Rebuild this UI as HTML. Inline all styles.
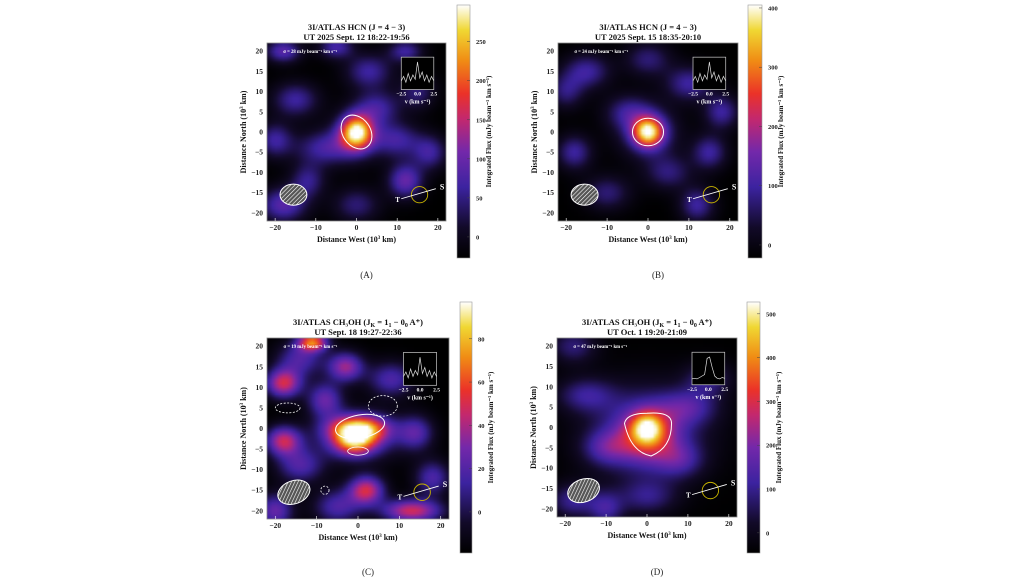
<!DOCTYPE html>
<html><head><meta charset="utf-8">
<style>
html,body{margin:0;padding:0;background:#fff;}
#root{position:relative;width:1024px;height:580px;overflow:hidden;font-family:"Liberation Serif",serif;}
canvas{position:absolute;image-rendering:auto;}
svg{position:absolute;left:0;top:0;}
</style></head>
<body>
<div id="root">
<canvas id="cA"></canvas>
<canvas id="cB"></canvas>
<canvas id="cC"></canvas>
<canvas id="cD"></canvas>
<svg id="ov" width="1024" height="580"></svg>
</div>
<script>
// blob data per panel: x (km), y (km), sigma x, sigma y, amplitude (fraction of colorbar span)
const blobsA_x=[0,-18,-5,12,-15,5,10,-8,12,-18,0,18,-20,3,-12,15,0];
const blobsA_y=[0,20,21,20,8,6,-2,-4,-12,-18,-18,-5,-2,15,-12,10,-1];
const blobsA_sx=[2.7,3,3,3,4,4,4,5,3,4,4,3,3,4,3,3,4.5];
const blobsA_sy=[2.9,2,2,2,3,3,3,3,3,3,3,3,3,3,3,3,4];
const blobsA_a=[0.8,0.35,0.3,0.28,0.28,0.28,0.28,0.28,0.38,0.35,0.22,0.28,0.28,0.28,0.25,0.22,0.25];
const blobsB_x=[0,0,-15,10,-5,15,-18,5,18,-10,12,0,-20];
const blobsB_y=[0,0,15,12,5,-5,-5,-10,5,-15,-18,18,10];
const blobsB_sx=[2.5,5,4,4,4,3,3,4,3,4,3,4,3];
const blobsB_sy=[2.5,4.5,3,3,3,3,3,3,3,3,3,3,3];
const blobsB_a=[0.75,0.3,0.28,0.28,0.22,0.28,0.28,0.22,0.28,0.22,0.28,0.22,0.22];
const blobsC_x=[0,-1,-11,-18,-18,2,13,-3,-8,14,-14,-14,8,-5,18,-20,0];
const blobsC_y=[0,-3.5,21,11,-3,-15,-20,15,7,-1,-9,17,12,-19,-12,-20,-2];
const blobsC_sx=[4.8,3.5,2.5,3,3,3,5,3,3,3,4,4,4,4,3,3,7];
const blobsC_sy=[2.2,2.2,1.5,2.5,2.5,2.5,2,2.5,3,3,3,3,3,3,3,3,4];
const blobsC_a=[0.75,0.5,0.7,0.58,0.55,0.58,0.58,0.48,0.38,0.32,0.32,0.32,0.32,0.32,0.32,0.38,0.35];
const blobsD_x=[0,0,-15,-10,10,15,-18,0,8,-18,-10,0];
const blobsD_y=[0,-1,8,-5,5,12,-18,-17,-8,20,-20,-2];
const blobsD_sx=[2.6,10,5,4,5,4,4,5,4,4,3,5];
const blobsD_sy=[2.6,8,3,3,3,3,3,3,3,3,3,4.5];
const blobsD_a=[0.45,0.3,0.24,0.24,0.24,0.22,0.26,0.22,0.22,0.22,0.26,0.42];
// colorbar ticks
const ticksA=[0,50,100,150,200,250]; const rangeA=[-27,297];
const ticksB=[0,100,200,300,400]; const rangeB=[-22,405];
const ticksC=[0,20,40,60,80]; const rangeC=[-19,97];
const ticksD=[0,100,200,300,400,500]; const rangeD=[-46,527];
const xTicks=[-20,-10,0,10,20];
const yTicks=[-20,-15,-10,-5,0,5,10,15,20];

const stops=[[0,[0,0,0]],[0.12,[18,10,40]],[0.28,[60,35,160]],[0.42,[115,40,170]],[0.55,[195,40,110]],[0.65,[235,50,40]],[0.78,[240,140,20]],[0.9,[240,215,50]],[1,[255,255,255]]];
function cmap(v){v=Math.max(0,Math.min(1,v));for(let i=1;i<stops.length;i++){if(v<=stops[i][0]){const a=stops[i-1],b=stops[i];const t=(v-a[0])/(b[0]-a[0]);return a[1].map((c,k)=>Math.round(c+(b[1][k]-c)*t));}}return [255,255,255];}

const panels=[
 {id:'A',c:'cA',x0:267,x1:446,y0:43,y1:221,cb:[457,5,13,253],bx:blobsA_x,by:blobsA_y,bsx:blobsA_sx,bsy:blobsA_sy,ba:blobsA_a,ticks:ticksA,range:rangeA,
  t1:'3I/ATLAS HCN (J = 4 − 3)',t2:'UT 2025 Sept. 12 18:22-19:56',sig:'σ = 28 mJy beam⁻¹ km s⁻¹',lab:'(A)',labY:278},
 {id:'B',c:'cB',x0:558,x1:738,y0:43,y1:221,cb:[748,5,14,253],bx:blobsB_x,by:blobsB_y,bsx:blobsB_sx,bsy:blobsB_sy,ba:blobsB_a,ticks:ticksB,range:rangeB,
  t1:'3I/ATLAS HCN (J = 4 − 3)',t2:'UT 2025 Sept. 15 18:35-20:10',sig:'σ = 24 mJy beam⁻¹ km s⁻¹',lab:'(B)',labY:278},
 {id:'C',c:'cC',x0:267,x1:449,y0:338,y1:519,cb:[460,302,12,251],bx:blobsC_x,by:blobsC_y,bsx:blobsC_sx,bsy:blobsC_sy,ba:blobsC_a,ticks:ticksC,range:rangeC,
  t1:'3I/ATLAS CH₃OH (J',t2:'UT Sept. 18 19:27-22:36',sig:'σ = 19 mJy beam⁻¹ km s⁻¹',lab:'(C)',labY:575,ch:true},
 {id:'D',c:'cD',x0:557,x1:737,y0:338,y1:517,cb:[747,302,13,251],bx:blobsD_x,by:blobsD_y,bsx:blobsD_sx,bsy:blobsD_sy,ba:blobsD_a,ticks:ticksD,range:rangeD,
  t1:'3I/ATLAS CH₃OH (J',t2:'UT Oct. 1 19:20-21:09',sig:'σ = 47 mJy beam⁻¹ km s⁻¹',lab:'(D)',labY:575,ch:true}
];
const NS='http://www.w3.org/2000/svg';
const ov=document.getElementById('ov');
function mk(tag,attrs,parent,text){const e=document.createElementNS(NS,tag);for(const k in attrs)e.setAttribute(k,attrs[k]);if(text!==undefined)e.textContent=text;(parent||ov).appendChild(e);return e;}
const defs=mk('defs',{});
const pat=mk('pattern',{id:'hatch',width:3,height:3,patternUnits:'userSpaceOnUse',patternTransform:'rotate(45)'},defs);
mk('rect',{width:3,height:3,fill:'#555'},pat);
mk('line',{x1:0,y1:0,x2:0,y2:3,stroke:'#fff','stroke-width':1.2},pat);
const grad=mk('linearGradient',{id:'cbg',x1:0,y1:1,x2:0,y2:0},defs);
stops.forEach(s=>{mk('stop',{offset:s[0],'stop-color':'rgb('+s[1].join(',')+')'},grad);});

panels.forEach(p=>{
  const W=p.x1-p.x0,H=p.y1-p.y0;
  const sx=v=>p.x0+(v+22)/44*W, sy=v=>p.y1-(v+22)/44*H;
  const cv=document.getElementById(p.c);
  const N=50;cv.width=N;cv.height=N;cv.style.left=p.x0+'px';cv.style.top=p.y0+'px';cv.style.width=W+'px';cv.style.height=H+'px';
  const ctx=cv.getContext('2d');const img=ctx.createImageData(N,N);
  for(let j=0;j<N;j++)for(let i=0;i<N;i++){
    const x=-22+(i+0.5)/N*44,y=22-(j+0.5)/N*44;let v=0;
    for(let k=0;k<p.bx.length;k++){const dx=(x-p.bx[k])/p.bsx[k],dy=(y-p.by[k])/p.bsy[k];v+=p.ba[k]*Math.exp(-0.5*(dx*dx+dy*dy));}
    const c=cmap(v);const o=(j*N+i)*4;img.data[o]=c[0];img.data[o+1]=c[1];img.data[o+2]=c[2];img.data[o+3]=255;}
  ctx.putImageData(img,0,0);
  const g=mk('g',{'font-family':'Liberation Serif, serif','font-weight':'bold'});
  
  
  mk('rect',{x:p.x0,y:p.y0,width:W,height:H,fill:'none',stroke:'#888','stroke-width':0.8},g);
  const cx=(p.x0+p.x1)/2;
  const t1=mk('text',{x:cx,y:p.y0-13,'text-anchor':'middle','font-size':8.5,fill:'#111',},g,p.t1);
  if(p.ch){mk('tspan',{'font-size':6,dy:2},t1,'K');mk('tspan',{dy:-2},t1,' = 1');mk('tspan',{'font-size':6,dy:2},t1,'1');mk('tspan',{dy:-2},t1,' − 0');mk('tspan',{'font-size':6,dy:2},t1,'0');mk('tspan',{dy:-2},t1,' A⁺)');}
  mk('text',{x:cx,y:p.y0-3,'text-anchor':'middle','font-size':8.5,fill:'#111',},g,p.t2);
  xTicks.forEach(v=>{mk('line',{x1:sx(v),x2:sx(v),y1:p.y1,y2:p.y1-3,stroke:'#fff','stroke-width':0.6},g);
    mk('text',{x:sx(v),y:p.y1+9,'text-anchor':'middle','font-size':7.5,fill:'#222',},g,String(v).replace('-','−'));});
  yTicks.forEach(v=>{mk('text',{x:p.x0-4,y:sy(v)+2.5,'text-anchor':'end','font-size':7.5,fill:'#222',},g,String(v).replace('-','−'));});
  const xt=mk('text',{x:cx,y:p.y1+21,'text-anchor':'middle','font-size':8,fill:'#111',},g,'Distance West (10');
  mk('tspan',{'font-size':5,dy:-3},xt,'3');mk('tspan',{dy:3},xt,' km)');
  const yt=mk('text',{x:0,y:0,'text-anchor':'middle','font-size':8,fill:'#111',transform:`translate(${p.x0-21},${(p.y0+p.y1)/2}) rotate(-90)`,},g,'Distance North (10');
  mk('tspan',{'font-size':5,dy:-3},yt,'3');mk('tspan',{dy:3},yt,' km)');
  mk('text',{x:sx(-18),y:sy(20)+2,'font-size':4.8,fill:'#fff',},g,p.sig);
  const ix=sx(11),iy=sy(18.5),iw=sx(19)-sx(11),ih=sy(10.5)-sy(18.5);
  mk('rect',{x:ix,y:iy,width:iw,height:ih,fill:'#000',stroke:'#ccc','stroke-width':0.7,},g);
  const spec=p.id==='D'?[0.2,0.22,0.2,0.25,0.3,0.35,0.9,0.95,0.6,0.3,0.22,0.2,0.25,0.22]:[0.3,0.45,0.25,0.55,0.3,0.5,0.35,0.95,0.4,0.6,0.3,0.5,0.25,0.45,0.3];
  let d='';spec.forEach((v,i)=>{d+=(i?'L':'M')+(ix+i/(spec.length-1)*iw).toFixed(1)+','+(iy+ih-v*ih*0.9).toFixed(1);});
  mk('path',{d:d,fill:'none',stroke:'#ddd','stroke-width':0.7},g);
  ['−2.5','0.0','2.5'].forEach((s,i)=>mk('text',{x:ix+i*iw/2,y:iy+ih+6,'text-anchor':'middle','font-size':5.5,fill:'#fff'},g,s));
  mk('text',{x:ix+iw/2,y:iy+ih+14,'text-anchor':'middle','font-size':6,fill:'#fff'},g,'v (km s⁻¹)');
  if(p.id==='A') mk('ellipse',{cx:sx(0),cy:sy(0),rx:W*3.4/44,ry:H*4.5/44,fill:'none',stroke:'#fff','stroke-width':1,transform:`rotate(-35 ${sx(0)} ${sy(0)})`,},g);
  if(p.id==='B') mk('ellipse',{cx:sx(0),cy:sy(0),rx:W*3.8/44,ry:H*3.4/44,fill:'none',stroke:'#fff','stroke-width':1,},g);
  if(p.id==='C'){mk('ellipse',{cx:sx(0.5),cy:sy(0.5),rx:W*6/44,ry:H*2.8/44,fill:'none',stroke:'#fff','stroke-width':1,transform:`rotate(-10 ${sx(0.5)} ${sy(0.5)})`,},g);
    mk('ellipse',{cx:sx(0),cy:sy(-5.5),rx:W*2.5/44,ry:H*1/44,fill:'none',stroke:'#fff','stroke-width':0.8},g);
    [[-17,5,3,1.2],[6,5.5,3.5,2.5],[-8,-15,1,1]].forEach(e=>mk('ellipse',{cx:sx(e[0]),cy:sy(e[1]),rx:W*e[2]/44,ry:H*e[3]/44,fill:'none',stroke:'#fff','stroke-width':0.8,'stroke-dasharray':'2,1.5',},g));}
  if(p.id==='D') mk('path',{d:`M${sx(-5.5)},${sy(1)} Q${sx(-5)},${sy(3.5)} ${sx(0)},${sy(3.5)} Q${sx(6)},${sy(4)} ${sx(6)},${sy(1)} Q${sx(6)},${sy(-5)} ${sx(1)},${sy(-7)} Q${sx(-4)},${sy(-6)} ${sx(-5.5)},${sy(1)} Z`,fill:'none',stroke:'#fff','stroke-width':1,},g);
  mk('ellipse',{cx:sx(-15.5),cy:sy(-15.5),rx:W*(p.ch?4:3.3)/44,ry:H*(p.ch?2.8:2.6)/44,fill:'url(#hatch)',stroke:'#fff','stroke-width':1,transform:`rotate(${p.ch?-20:0} ${sx(-15.5)} ${sy(-15.5)})`,},g);
  mk('circle',{cx:sx(15.5),cy:sy(-15.5),r:W*2/44,fill:'none',stroke:'#c8b400','stroke-width':0.9,},g);
  mk('line',{x1:sx(11),y1:sy(-16.5),x2:sx(19.5),y2:sy(-14),stroke:'#fff','stroke-width':0.9,},g);
  mk('text',{x:sx(20.5),y:sy(-14)+1,'font-size':8,fill:'#fff'},g,'S');
  mk('text',{x:sx(11)-6,y:sy(-16.5)+3,'font-size':7,fill:'#fff'},g,'T');
  const [bx,by,bw,bh]=p.cb;
  mk('rect',{x:bx,y:by,width:bw,height:bh,fill:'url(#cbg)',stroke:'#999','stroke-width':0.6,},g);
  p.ticks.forEach(v=>{const y=by+bh-(v-p.range[0])/(p.range[1]-p.range[0])*bh;
    mk('line',{x1:bx+bw-3,x2:bx+bw,y1:y,y2:y,stroke:'#444','stroke-width':0.5},g);
    mk('text',{x:bx+bw+6,y:y+2.5,'font-size':6.5,fill:'#222',},g,String(v));});
  mk('text',{x:0,y:0,'text-anchor':'middle','font-size':7,fill:'#111',transform:`translate(${bx+bw+21},${by+bh/2}) rotate(-90)`,},g,'Integrated Flux (mJy beam⁻¹ km s⁻¹)');
  mk('text',{x:cx+10,y:p.labY,'text-anchor':'middle','font-size':9,'font-weight':'normal',fill:'#222',},g,p.lab);
});
</script>
</body></html>
